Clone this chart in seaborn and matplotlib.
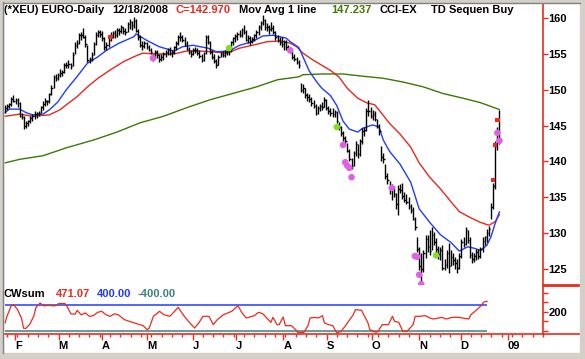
import numpy as np
import pandas as pd
import matplotlib
matplotlib.use("Agg")
import matplotlib.pyplot as plt
import seaborn as sns
from matplotlib.patches import Rectangle
from matplotlib.lines import Line2D

sns.set_theme(style="white")
plt.rcParams['font.family'] = ['Liberation Sans', 'DejaVu Sans']

# ---------------- data ----------------
dates = pd.bdate_range('2008-01-25', '2008-12-18')          # 235 trading days
axis_dates = pd.bdate_range('2008-01-25', '2009-01-31')

high = [147.9,148.0,148.2,149.0,149.3,148.9,148.8,148.3,146.8,146.3,
        145.6,145.8,146.3,146.6,147.0,146.9,147.1,147.8,148.4,148.8,
        148.6,149.6,150.6,152.0,152.2,152.4,152.9,152.8,153.8,153.9,
        154.2,153.8,155.3,156.6,156.9,157.9,158.0,158.6,157.6,156.2,
        154.6,155.2,156.7,158.0,158.4,158.3,158.2,157.4,156.6,157.3,
        158.0,158.2,158.3,158.6,158.6,159.0,158.8,158.6,159.4,159.8,
        159.6,160.2,159.8,158.5,157.6,156.8,156.8,156.6,156.3,155.8,
        155.0,155.6,155.6,155.0,155.0,155.3,155.6,155.8,155.9,155.6,
        156.1,156.8,157.6,158.0,157.6,157.3,156.8,156.0,155.5,155.8,
        155.9,155.8,155.5,155.0,155.3,157.6,157.7,156.8,155.6,155.0,
        154.3,154.8,155.3,155.4,155.5,155.6,155.8,156.8,157.4,157.8,
        158.0,158.3,158.6,159.0,158.4,157.6,157.5,157.4,157.8,158.4,
        159.0,159.6,160.4,159.8,159.3,159.0,159.4,159.0,158.2,157.6,
        157.4,157.3,157.0,156.9,156.2,156.0,155.4,155.0,154.6,154.2,
        150.9,150.8,150.2,149.6,149.4,149.0,148.6,148.0,147.8,148.0,
        148.3,149.0,148.7,147.8,147.4,147.5,147.2,147.0,145.5,145.0,
        144.2,143.6,142.6,141.8,140.5,141.5,142.8,142.4,143.2,144.6,
        144.8,147.5,148.6,147.6,147.2,147.0,145.9,145.2,142.2,141.2,
        139.6,138.4,137.3,136.8,136.6,135.6,136.7,136.8,137.0,135.8,
        135.4,135.0,134.0,133.6,132.3,129.4,128.0,127.2,127.6,129.8,
        129.8,130.4,130.9,130.2,129.3,128.2,128.0,128.4,126.4,127.6,
        128.6,127.6,127.2,126.7,126.4,127.2,129.2,129.4,130.8,130.4,
        129.4,127.4,127.2,127.8,127.8,128.0,129.4,129.6,130.6,131.0,
        134.2,137.0,142.8,144.8,147.2]
low = [146.8,147.2,147.4,147.8,148.3,148.0,147.6,146.2,145.9,144.5,
       144.6,145.0,145.4,145.7,145.9,146.1,146.3,146.8,147.2,147.7,
       147.9,148.2,149.2,150.3,151.2,151.4,151.8,151.9,152.4,153.0,
       153.1,152.9,153.3,155.0,155.8,156.4,157.0,157.2,156.0,153.9,
       153.7,154.0,154.8,156.3,157.3,157.4,156.8,155.5,155.6,156.0,
       156.8,157.2,157.2,157.4,157.6,157.9,157.8,157.6,158.0,158.5,
       158.3,158.6,158.0,157.0,156.0,155.6,155.8,155.7,155.4,155.0,
       154.0,154.3,154.4,153.9,154.0,154.2,154.6,154.9,154.8,154.5,
       155.0,155.6,156.2,156.8,156.6,156.1,155.5,155.0,154.6,154.8,
       155.1,154.8,154.4,153.9,154.0,155.0,156.4,155.0,154.3,153.7,
       153.0,153.4,154.5,154.5,154.6,154.8,154.9,155.3,156.2,156.6,
       156.9,157.3,157.4,157.8,156.8,156.5,156.3,156.5,156.8,157.2,
       157.6,158.4,159.0,158.4,158.2,157.8,158.2,157.8,157.0,156.7,
       156.3,156.0,155.6,155.6,155.3,155.1,154.3,154.0,153.6,153.1,
       149.7,149.6,148.8,148.5,148.3,147.8,147.4,146.5,146.6,147.0,
       147.2,147.6,147.2,146.6,146.4,146.2,146.2,145.4,144.4,143.6,
       142.8,142.4,141.3,140.0,138.9,139.4,140.8,140.5,140.8,142.4,
       143.6,144.2,146.4,146.0,145.8,145.6,144.6,143.7,140.0,139.8,
       137.6,136.8,135.5,134.6,135.0,133.4,132.5,135.6,134.8,134.3,
       134.0,133.4,132.8,131.8,130.4,127.4,124.8,123.3,124.6,126.6,
       127.4,127.0,127.6,128.4,127.3,126.4,126.3,124.8,124.9,125.2,
       124.5,125.4,125.6,125.0,124.4,125.0,126.6,128.0,128.4,128.6,
       126.6,125.8,126.0,126.2,126.4,126.6,127.4,128.4,128.8,129.6,
       132.0,133.4,136.2,141.6,142.4]
close = [147.5,147.7,148.0,148.7,148.5,148.6,148.2,146.4,146.2,144.9,
         145.3,145.6,146.0,146.4,146.6,146.7,146.8,147.6,148.0,148.5,
         148.4,149.4,150.2,151.8,151.6,152.0,152.3,152.5,153.5,153.4,
         153.6,153.3,154.9,156.3,156.5,157.6,157.6,157.4,156.4,154.2,
         154.3,154.9,156.4,157.7,158.0,157.8,157.2,155.9,156.2,157.0,
         157.6,157.9,157.6,158.3,158.2,158.7,158.2,158.0,159.2,159.4,
         159.0,159.6,158.2,157.3,156.3,156.1,156.5,156.0,155.6,155.3,
         154.4,155.2,154.8,154.3,154.6,155.0,155.3,155.5,155.1,155.3,
         155.9,156.5,157.3,157.4,157.0,156.4,155.7,155.3,155.0,155.5,
         155.6,155.1,154.7,154.1,155.1,157.3,156.6,155.3,154.6,154.0,
         153.4,154.6,155.0,154.8,155.2,155.3,155.5,156.6,157.2,157.5,
         157.8,157.6,158.4,158.1,157.0,157.2,156.8,157.1,157.6,158.0,
         158.8,159.3,159.7,158.7,158.7,158.5,158.6,158.0,157.3,157.0,
         156.7,156.4,156.6,156.0,155.7,155.3,154.5,154.3,153.9,153.4,
         150.0,150.2,149.2,149.0,148.7,148.2,147.7,146.8,147.5,147.7,
         147.6,148.6,147.4,147.0,146.8,146.6,146.9,145.6,144.8,143.9,
         143.3,142.8,141.5,140.3,139.4,141.2,142.5,141.1,142.9,144.2,
         144.4,147.0,147.1,146.3,146.6,145.9,145.0,144.2,140.6,140.4,
         138.0,137.4,136.0,136.4,135.5,134.0,136.2,136.0,135.2,134.6,
         134.4,133.8,133.2,132.0,130.8,127.8,125.4,125.0,127.2,129.2,
         128.0,127.5,129.8,128.8,127.8,127.1,127.6,125.1,125.6,127.2,
         125.4,126.7,126.2,125.8,125.2,126.8,128.7,128.5,130.4,129.0,
         126.9,126.4,126.8,127.4,126.8,127.8,128.9,129.4,130.0,130.6,
         133.6,136.6,142.2,144.2,142.97]

# moving averages (trading-day index, value)
blue_idx = [0,2,7,10,13,18,21,25,29,34,39,44,48,54,61,62,67,73,80,84,89,96,100,106,111,117,
            122,127,133,135,139,141,144,148,150,154,157,160,163,167,169,174,177,179,182,187,
            192,196,201,206,211,215,219,222,225,228,230,232,234]
blue_ma = [146.8,147.3,147.3,146.8,146.5,146.6,147.2,148.3,150.0,151.8,153.7,154.6,155.5,156.5,
           157.4,157.8,156.9,156.0,155.4,156.0,156.2,155.8,155.3,155.4,156.2,156.7,157.5,157.6,
           157.2,156.7,155.9,154.6,152.6,150.9,150.2,149.2,147.8,145.6,144.5,144.1,144.6,145.1,
           144.8,143.0,141.4,139.6,137.1,133.4,131.5,129.8,128.7,127.5,128.1,127.9,127.6,128.3,
           129.5,131.4,133.0]
red_idx = [0,7,13,21,26,29,34,39,44,50,56,61,65,72,80,86,92,98,105,111,117,124,130,135,138,141,
           146,150,154,158,162,167,171,175,178,182,187,192,196,201,206,211,215,220,225,229,232,234]
red_ma = [146.3,146.6,146.3,146.5,147.2,147.9,149.0,150.4,151.6,152.8,153.9,154.6,155.1,155.0,
          155.0,155.4,155.4,155.3,155.1,155.8,156.2,156.7,156.8,156.5,156.0,155.1,154.1,153.4,
          152.7,151.8,150.2,148.8,148.2,147.9,146.8,145.3,143.8,142.0,139.8,137.8,136.2,134.4,
          133.0,132.2,131.5,131.1,131.6,132.6]
green_idx = [0,7,18,29,42,53,64,75,86,97,108,119,129,139,141,150,160,169,179,188,198,207,217,225,234]
green_ma = [139.8,140.3,140.8,141.9,143.0,144.1,145.4,146.3,147.5,148.6,149.5,150.4,151.4,151.8,
            152.1,152.2,152.2,151.9,151.6,151.1,150.4,149.5,148.8,148.2,147.24]

# signal markers (trading-day index, price)
pink_idx = [70,135,160,161,162,163,164,183,194,195,196,197,233,234]
pink_px = [154.4,155.5,142.3,139.9,139.4,139.1,137.8,136.3,126.8,126.7,124.2,122.9,144.0,142.9]
lime_idx = [106,157,204]
lime_px = [155.8,144.8,126.9]
flag_idx = [50,231,232,233]
flag_px = [157.4,137.4,142.3,145.8]

# CWsum oscillator (trading-day index, value)
cw_idx = [0,1,3,4,6,8,9,10,12,14,15,17,19,21,24,26,29,30,32,34,35,37,39,41,43,45,47,49,51,53,
          55,58,61,64,67,69,70,72,75,77,80,83,84,87,89,92,94,96,99,101,103,106,110,113,115,117,
          121,123,125,127,129,130,132,133,135,136,139,141,142,145,147,148,150,152,154,155,157,
          159,161,163,165,167,169,170,173,174,176,177,180,181,183,186,188,189,191,193,195,198,
          199,201,204,206,208,212,214,217,220,222,225,226,229,231,232,233,234]
cw_val = [-160,60,380,420,280,0,-320,-330,-200,60,330,470,380,400,380,450,460,380,130,120,240,
          100,160,50,80,180,210,100,50,130,100,-53,-120,-180,-242,-368,-316,53,210,105,53,263,
          337,53,-105,-316,-158,53,53,-210,-53,105,210,389,158,0,74,179,137,0,-137,21,-210,-210,
          32,-242,-242,-368,-453,-453,-242,0,21,0,74,-158,-210,-242,-474,-421,-263,-74,105,263,
          242,105,-137,-368,-453,-421,-210,-210,53,-105,-137,-421,-421,-210,53,53,74,0,-32,21,
          -32,21,21,0,-32,105,263,389,480,520,525]

month_labels = ['F', 'M', 'A', 'M', 'J', 'J', 'A', 'S', 'O', 'N', 'D', '09']
price_ticks = [125, 130, 135, 140, 145, 150, 155, 160]

# ---------------- figure ----------------
W, H = 585, 359
fig = plt.figure(figsize=(W / 100, H / 100), dpi=100, facecolor='white')

RED = '#ee2a1a'
BLUE = '#1f3cff'
MRED = '#e8281c'
GREEN = '#3c7a00'
TEAL = '#3d8080'
PINK = '#e25ee8'
LIME = '#7fe01e'

def px2fig(x0, y0, x1, y1):
    return [x0 / W, 1 - y1 / H, (x1 - x0) / W, (y1 - y0) / H]

ax = fig.add_axes(px2fig(4, 4, 543, 285))
axc = fig.add_axes(px2fig(4, 285, 543, 334))

xs = np.arange(len(dates))
xl = (-0.47, 254.6)

# ---- main price panel ----
sns.lineplot(x=green_idx, y=green_ma, ax=ax, color=GREEN, lw=1.0, estimator=None, sort=False)
sns.lineplot(x=red_idx, y=red_ma, ax=ax, color=MRED, lw=1.0, estimator=None, sort=False)
sns.lineplot(x=blue_idx, y=blue_ma, ax=ax, color=BLUE, lw=1.0, estimator=None, sort=False)
ax.vlines(xs, low, high, color='black', lw=1.0)
ax.hlines(close, xs, xs + 0.75, color='black', lw=1.0)
sns.scatterplot(x=pink_idx, y=pink_px, ax=ax, color=PINK, s=22, marker='o', edgecolor='none', zorder=5)
sns.scatterplot(x=lime_idx, y=lime_px, ax=ax, color=LIME, s=22, marker='o', edgecolor='none', zorder=5)
sns.scatterplot(x=flag_idx, y=flag_px, ax=ax, color=RED, s=10, marker='s', edgecolor='none', zorder=5)

ax.set_xlim(*xl)
ax.set_ylim(122.77, 161.96)
ax.set_facecolor('white')
for s in ['top', 'left', 'bottom']:
    ax.spines[s].set_visible(False)
ax.spines['right'].set_color(RED)
ax.spines['right'].set_linewidth(1.2)
ax.set_xticks([])
ax.yaxis.tick_right()
ax.set_yticks(price_ticks)
ax.set_yticklabels([str(t) for t in price_ticks], fontsize=8, fontweight='bold')
ax.tick_params(axis='y', right=True, length=3.5, width=1, color=RED, pad=0.5, labelcolor='black')
ax.set_xlabel(''); ax.set_ylabel('')

# ---- CWsum panel ----
axc.hlines([400], 0, len(dates) - 1, color=BLUE, lw=1.1)
axc.hlines([-400], 0, len(dates) - 1, color=TEAL, lw=1.1)
sns.lineplot(x=cw_idx, y=cw_val, ax=axc, color=RED, lw=0.9, estimator=None, sort=False)
axc.set_xlim(*xl)
axc.set_ylim(-504, 1039)
axc.set_facecolor('white')
for s in ['top', 'left']:
    axc.spines[s].set_visible(False)
for s in ['right', 'bottom']:
    axc.spines[s].set_color(RED)
    axc.spines[s].set_linewidth(1.2)
axc.yaxis.tick_right()
axc.set_yticks([-400, -100, 200, 500, 800])
axc.set_yticklabels(['', '', '200', '', ''], fontsize=8, fontweight='bold')
axc.tick_params(axis='y', right=True, length=3.5, width=1, color=RED, pad=0.5, labelcolor='black')

# month ticks (first trading day of each month) and weekly minor ticks
ad = pd.Series(axis_dates)
month_start = [i for i in range(1, len(ad)) if ad[i].month != ad[i - 1].month]
mondays = [i for i in range(len(ad)) if ad[i].weekday() == 0 and i not in month_start]
axc.set_xticks(month_start)
axc.set_xticks(mondays, minor=True)
axc.set_xticklabels(month_labels, fontsize=8, fontweight='bold')
for lbl in axc.get_xticklabels():
    lbl.set_ha('left')
axc.tick_params(axis='x', which='major', bottom=True, length=4.5, width=1, color=RED, pad=0.8,
                labelcolor='black')
axc.tick_params(axis='x', which='minor', bottom=True, length=2.2, width=1, color=RED)
axc.set_xlabel(''); axc.set_ylabel('')

# ---- extra axis lines in the right margin ----
fig.add_artist(Line2D([543 / W, 580 / W], [1 - 285 / H, 1 - 285 / H], color=RED, lw=2))
fig.add_artist(Line2D([543 / W, 580 / W], [1 - 334 / H, 1 - 334 / H], color=RED, lw=1.2))

# ---- window frame ----
GRAY = '#d4d0c8'
fig.add_artist(Rectangle((0, 0), 3 / W, 1, transform=fig.transFigure, color=GRAY, zorder=10))
fig.add_artist(Rectangle((0, 1 - 2 / H), 1, 2 / H, transform=fig.transFigure, color=GRAY, zorder=10))
fig.add_artist(Rectangle((580 / W, 0), 5 / W, 1, transform=fig.transFigure, color=GRAY, zorder=10))
fig.add_artist(Rectangle((0, 0), 1, 6 / H, transform=fig.transFigure, color=GRAY, zorder=10))
fig.add_artist(Line2D([3 / W, 3 / W], [6 / H, 1 - 2 / H], color='#808080', lw=1, zorder=11))
fig.add_artist(Line2D([3 / W, 580 / W], [1 - 2.5 / H, 1 - 2.5 / H], color='#808080', lw=1, zorder=11))

# ---- header texts ----
def ftxt(x, y, s, c='black'):
    fig.text(x / W, 1 - y / H, s, color=c, fontsize=8, fontweight='bold', ha='left', va='center')

ftxt(4, 10, '(*XEU) EURO-Daily')
ftxt(112, 10, '12/18/2008')
ftxt(175, 10, 'C=142.970', '#e8281c')
ftxt(239, 10, 'Mov Avg 1 line')
ftxt(331, 10, '147.237', GREEN)
ftxt(380, 10, 'CCI-EX')
ftxt(431, 10, 'TD Sequen Buy')

ftxt(4, 294, 'CWsum')
ftxt(56, 294, '471.07', RED)
ftxt(97, 294, '400.00', BLUE)
ftxt(138, 294, '-400.00', TEAL)

fig.savefig('out.png', dpi=100, facecolor='white')
